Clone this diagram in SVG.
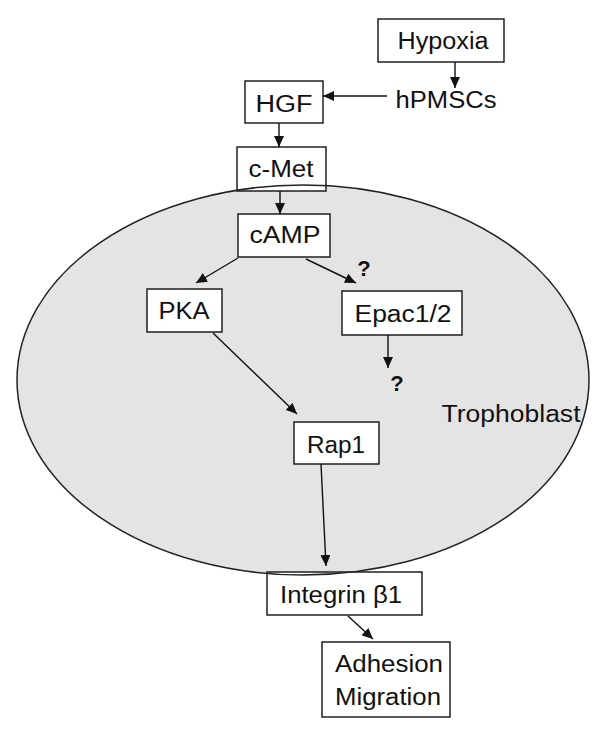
<svg xmlns="http://www.w3.org/2000/svg" width="608" height="735" viewBox="0 0 608 735">
<style>
.box{fill:#fff;stroke:#111;stroke-width:1.4}
.t{font-family:"Liberation Sans",Arial,sans-serif;font-size:23.5px;fill:#111;text-anchor:middle}
.q{font-family:"Liberation Sans",Arial,sans-serif;font-size:22px;font-weight:bold;fill:#111;text-anchor:middle}
.c{stroke:#111;stroke-width:1.4;fill:none;marker-end:url(#ah)}
</style>
<defs>
<marker id="ah" markerUnits="userSpaceOnUse" markerWidth="12" markerHeight="10" refX="11" refY="5" orient="auto">
<path d="M0,0 L11,5 L0,10 Z" fill="#111"/>
</marker>
</defs>
<rect width="608" height="735" fill="#fff"/>
<ellipse id="cell-fill" cx="303" cy="380" rx="286" ry="195" fill="#e4e4e4"/>
<g id="Hypoxia"><rect class="box" x="378" y="19" width="126" height="43"/><text class="t" x="443" y="49" textLength="91" lengthAdjust="spacingAndGlyphs">Hypoxia</text></g>
<g id="hPMSCs"><text class="t" x="446" y="108" textLength="101" lengthAdjust="spacingAndGlyphs">hPMSCs</text></g>
<g id="HGF"><rect class="box" x="245" y="81" width="78" height="42"/><text class="t" x="284" y="112" textLength="57" lengthAdjust="spacingAndGlyphs">HGF</text></g>
<g id="cMet"><rect class="box" x="237" y="147" width="89" height="44"/><text class="t" x="281" y="177" textLength="65" lengthAdjust="spacingAndGlyphs">c-Met</text></g>
<g id="cAMP"><rect class="box" x="238" y="214" width="92" height="43"/><text class="t" x="285" y="243" textLength="71" lengthAdjust="spacingAndGlyphs">cAMP</text></g>
<g id="PKA"><rect class="box" x="147" y="289" width="75" height="43"/><text class="t" x="184" y="319" textLength="51" lengthAdjust="spacingAndGlyphs">PKA</text></g>
<g id="Epac"><rect class="box" x="342" y="291" width="120" height="44"/><text class="t" x="403" y="322" textLength="97" lengthAdjust="spacingAndGlyphs">Epac1/2</text></g>
<g id="Rap1"><rect class="box" x="294" y="422" width="85" height="42"/><text class="t" x="336" y="453" textLength="58" lengthAdjust="spacingAndGlyphs">Rap1</text></g>
<g id="Trophoblast"><text class="t" x="511" y="422" textLength="139" lengthAdjust="spacingAndGlyphs">Trophoblast</text></g>
<g id="Integrin"><rect class="box" x="267" y="572" width="155" height="43"/><text class="t" x="341" y="603" textLength="122" lengthAdjust="spacingAndGlyphs">Integrin β1</text></g>
<g id="Adhesion"><rect class="box" x="322" y="642" width="128" height="75"/><text class="t" x="389" y="672" textLength="108" lengthAdjust="spacingAndGlyphs">Adhesion</text><text class="t" x="388" y="705" textLength="106" lengthAdjust="spacingAndGlyphs">Migration</text></g>
<ellipse id="cell-outline" cx="303" cy="380" rx="286" ry="195" fill="none" stroke="#222" stroke-width="1.5"/>
<g id="connectors">
<line class="c" x1="455" y1="62" x2="455" y2="88"/>
<line class="c" x1="387" y1="96" x2="323" y2="96"/>
<line class="c" x1="279" y1="123" x2="279" y2="147"/>
<line class="c" x1="280" y1="191" x2="280" y2="214"/>
<line class="c" x1="238" y1="258" x2="196" y2="283"/>
<line class="c" x1="306" y1="259" x2="356" y2="283"/>
<line class="c" x1="388" y1="335" x2="388" y2="368"/>
<line class="c" x1="213" y1="333" x2="297" y2="414"/>
<line class="c" x1="321" y1="464" x2="326" y2="566"/>
<line class="c" x1="348" y1="616" x2="373" y2="639"/>
</g>
<g id="question-marks">
<text class="q" x="364" y="276">?</text>
<text class="q" x="397" y="391">?</text>
</g>
</svg>
